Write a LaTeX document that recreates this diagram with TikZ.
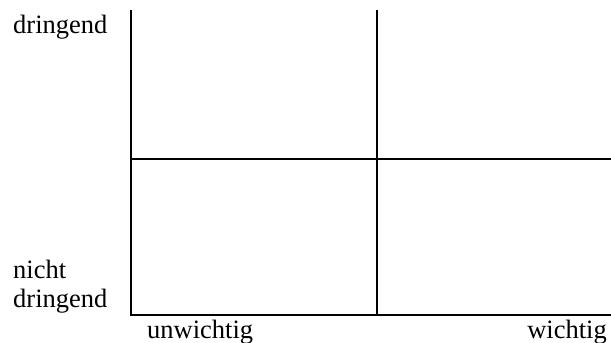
\documentclass[tikz,border=0pt]{standalone}
\usepackage{fontspec}
\setmainfont{Liberation Serif}
\begin{document}
\begin{tikzpicture}[x=1pt,y=-1pt,
  axis/.style={line width=2pt,black},
  lbl/.style={font=\fontsize{26.5}{29}\selectfont,inner sep=0pt,anchor=base west,align=left}]
\useasboundingbox (0,0) rectangle (611,343);
\coordinate (tl) at (131,10);
\coordinate (bl) at (131,315);
\coordinate (br) at (611,315);
\coordinate (mt) at (377,10);
\coordinate (mb) at (377,315);
\coordinate (ml) at (131,159);
\coordinate (mr) at (611,159);
\draw[axis] (tl) -- (bl) -- (br);
\draw[axis] (mt) -- (mb);
\draw[axis] (ml) -- (mr);
\node[lbl] (d1) at (13,33) {dringend};
\node[lbl] (nd) at (13,307) {nicht\\dringend};
\node[lbl] (uw) at (147,338) {unwichtig};
\node[lbl,anchor=base east] (w) at (607,338) {wichtig};
\end{tikzpicture}
\end{document}
